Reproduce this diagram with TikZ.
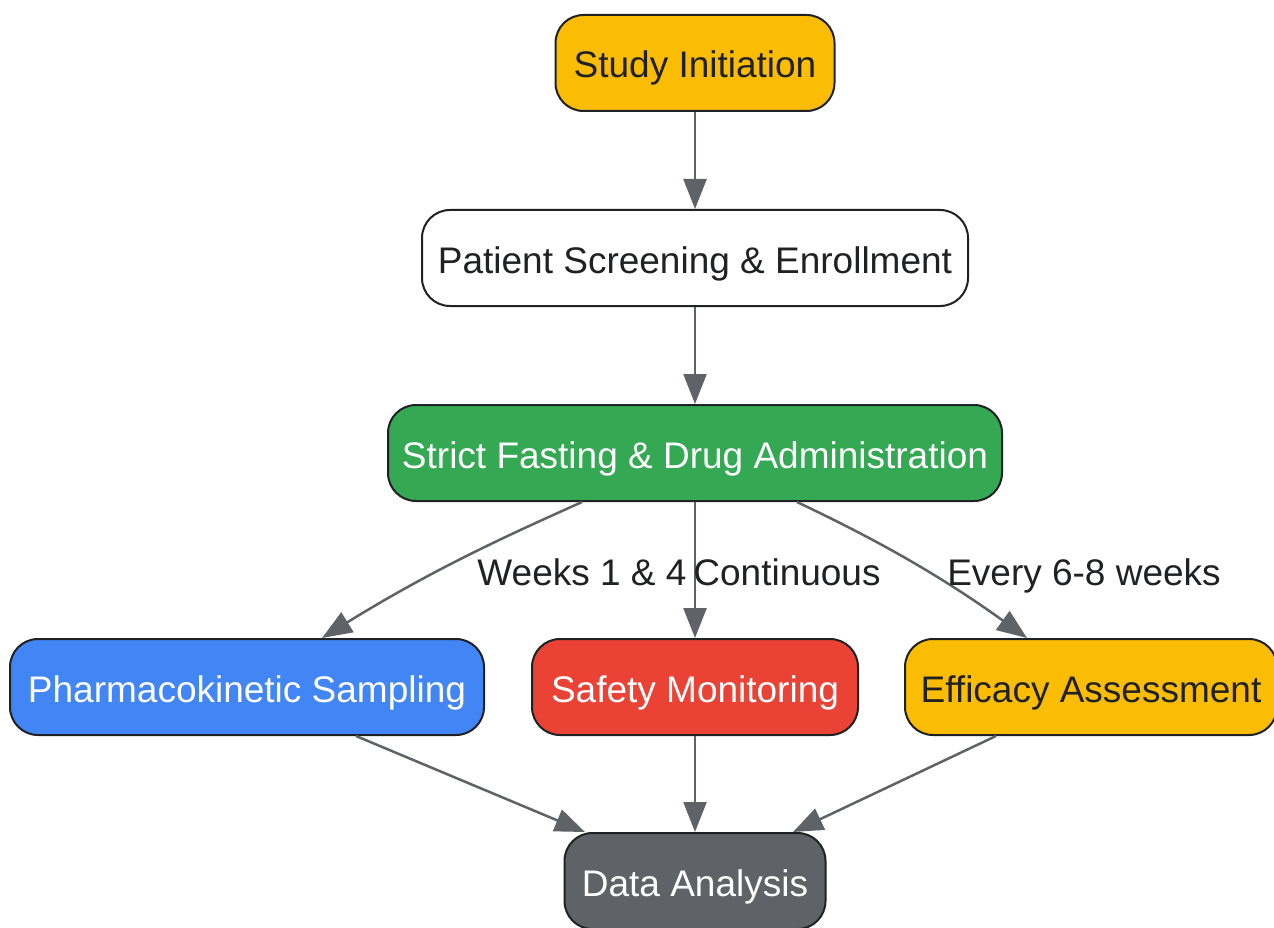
\documentclass[tikz,border=0pt]{standalone}
\usepackage{fontspec}
\setmainfont{Liberation Sans}
\usetikzlibrary{arrows.meta,calc}
\definecolor{gyellow}{HTML}{FBBC04}
\definecolor{ggreen}{HTML}{34A853}
\definecolor{gblue}{HTML}{4285F4}
\definecolor{gred}{HTML}{EA4335}
\definecolor{ggray}{HTML}{5F6368}
\definecolor{gtext}{HTML}{202124}
\definecolor{gline}{HTML}{202124}
\tikzset{
  box/.style={draw=gline, line width=2pt, rounded corners=28pt, minimum height=96pt, inner sep=0pt, text height=30pt, text depth=0pt, font=\fontsize{37}{44}\selectfont, text=gtext},
  wtext/.style={text=white},
  conn/.style={draw=ggray, line width=2.5pt, -{Triangle[length=30pt,width=23pt]}},
  lab/.style={font=\fontsize{37}{44}\selectfont, text=gtext, inner sep=0pt, text height=24pt, text depth=0pt},
}
\begin{document}
\begin{tikzpicture}[x=1pt,y=-1pt]
\useasboundingbox[fill=white] (0,0) rectangle (1274,928);
\node[box, fill=gyellow, minimum width=279pt] (init) at (695,63) {Study Initiation};
\node[box, fill=white, minimum width=546pt] (screen) at (695,258) {Patient Screening \& Enrollment};
\node[box, fill=ggreen, wtext, minimum width=614pt] (fast) at (695,453) {Strict Fasting \& Drug Administration};
\node[box, fill=gblue, wtext, minimum width=474pt] (pk) at (247,687) {Pharmacokinetic Sampling};
\node[box, fill=gred, wtext, minimum width=326pt] (safety) at (695,687) {Safety Monitoring};
\node[box, fill=gyellow, minimum width=372pt] (eff) at (1091,687) {Efficacy Assessment};
\node[box, fill=ggray, wtext, minimum width=261pt] (data) at (695,881) {Data Analysis};

\draw[conn] (init.south) -- (screen.north);
\draw[conn] (screen.south) -- (fast.north);
\draw[conn] ([xshift=-113pt]fast.south) .. controls (520,530) and (440,565) .. ([xshift=75pt]pk.north);
\draw[conn] (fast.south) -- (safety.north);
\draw[conn] ([xshift=102pt]fast.south) .. controls (860,532) and (930,568) .. ([xshift=-64pt]eff.north);
\draw[conn] ([xshift=109pt]pk.south) -- ([xshift=-110pt]data.north);
\draw[conn] (safety.south) -- (data.north);
\draw[conn] ([xshift=-95pt]eff.south) -- ([xshift=98pt]data.north);

\node[lab] (l1) at (582,573) {Weeks 1 \& 4};
\node[lab] (l2) at (787,573) {Continuous};
\node[lab] (l3) at (1084,573) {Every 6-8 weeks};
\end{tikzpicture}
\end{document}
